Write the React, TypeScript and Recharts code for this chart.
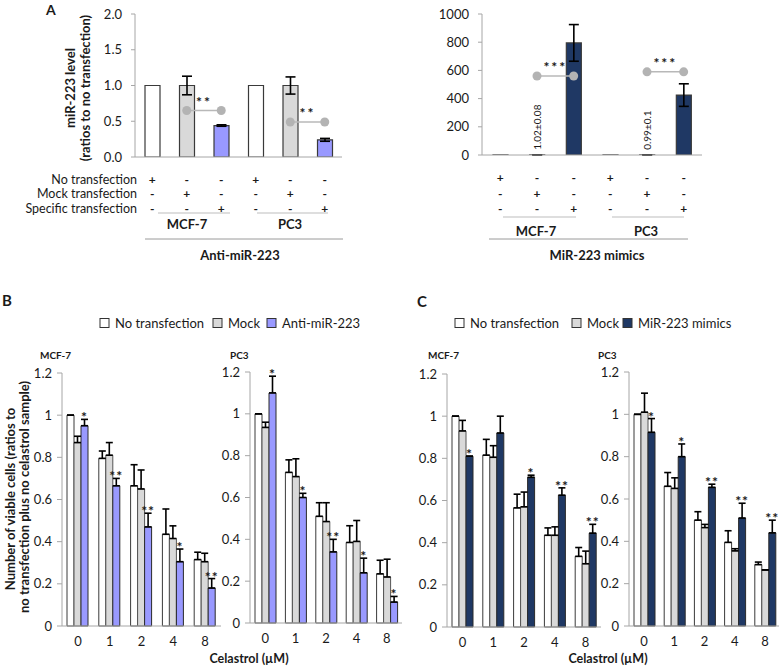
import React from 'react';
import { BarChart, Bar, XAxis, YAxis, ErrorBar, LabelList, ReferenceLine, ReferenceDot, Cell } from 'recharts';

const FONT = 'Lato, "Open Sans", sans-serif';
const AXIS = '#a6a6a6';
const INK = '#1a1a1a';

// ---------- Panel A data ----------
const aCategories = ['MCF-7 none', 'MCF-7 mock', 'MCF-7 specific', 'PC3 none', 'PC3 mock', 'PC3 specific'];
const aKinds = ['none', 'mock', 'specific', 'none', 'mock', 'specific'];
const noTransfectionRow = ['+', '-', '-', '+', '-', '-'];
const mockTransfectionRow = ['-', '+', '-', '-', '+', '-'];
const specificTransfectionRow = ['-', '-', '+', '-', '-', '+'];
const antiLevels = [1.0, 1.0, 0.44, 1.0, 1.0, 0.24];
const antiErrors = [0, 0.13, 0.01, 0, 0.12, 0.02];
const mimicLevels = [1, 1.02, 795, 1, 0.99, 425];
const mimicErrors = [0, 0.08, 130, 0, 0.1, 80];
const mimicMockLabels = ['', '1.02\u00B10.08', '', '', '0.99\u00B10.1', ''];
const antiYTicks = [0, 0.5, 1, 1.5, 2];
const mimicYTicks = [0, 200, 400, 600, 800, 1000];
const antiSig = [
  { from: 'MCF-7 mock', to: 'MCF-7 specific', y: 0.65, label: '**' },
  { from: 'PC3 mock', to: 'PC3 specific', y: 0.49, label: '**' },
];
const mimicSig = [
  { from: 'MCF-7 mock', to: 'MCF-7 specific', y: 560, label: '***' },
  { from: 'PC3 mock', to: 'PC3 specific', y: 590, label: '***' },
];

// ---------- Panels B / C data ----------
const celastrolDoses = ['0', '1', '2', '4', '8'];
const viabilityTicks = [0, 0.2, 0.4, 0.6, 0.8, 1, 1.2];

const bMcfNone = [1.0, 0.795, 0.665, 0.435, 0.315];
const bMcfNoneErr = [0, 0.035, 0.1, 0.12, 0.035];
const bMcfMock = [0.87, 0.81, 0.65, 0.415, 0.305];
const bMcfMockErr = [0.03, 0.06, 0.09, 0.06, 0.04];
const bMcfAnti = [0.95, 0.665, 0.47, 0.305, 0.18];
const bMcfAntiErr = [0.03, 0.035, 0.065, 0.06, 0.045];
const bMcfStars = ['*', '**', '**', '*', '**'];

const bPcNone = [1.0, 0.72, 0.51, 0.385, 0.235];
const bPcNoneErr = [0, 0.06, 0.065, 0.08, 0.065];
const bPcMock = [0.935, 0.7, 0.485, 0.39, 0.22];
const bPcMockErr = [0.025, 0.085, 0.09, 0.1, 0.085];
const bPcAnti = [1.1, 0.6, 0.34, 0.24, 0.1];
const bPcAntiErr = [0.08, 0.02, 0.06, 0.07, 0.027];
const bPcStars = ['*', '*', '**', '*', '*'];

const cMcfNone = [1.0, 0.815, 0.565, 0.435, 0.335];
const cMcfNoneErr = [0, 0.075, 0.065, 0.035, 0.042];
const cMcfMock = [0.93, 0.805, 0.57, 0.435, 0.3];
const cMcfMockErr = [0.05, 0.055, 0.07, 0.04, 0.06];
const cMcfMimic = [0.81, 0.92, 0.71, 0.625, 0.445];
const cMcfMimicErr = [0, 0.08, 0.01, 0.035, 0.042];
const cMcfStars = ['*', '', '*', '**', '**'];

const cPcNone = [1.0, 0.66, 0.5, 0.395, 0.29];
const cPcNoneErr = [0, 0.065, 0.04, 0.055, 0.012];
const cPcMock = [1.01, 0.65, 0.465, 0.355, 0.265];
const cPcMockErr = [0.09, 0.05, 0.015, 0.01, 0];
const cPcMimic = [0.915, 0.8, 0.655, 0.51, 0.44];
const cPcMimicErr = [0.065, 0.06, 0.015, 0.07, 0.06];
const cPcStars = ['*', '*', '**', '**', '**'];

// ---------- colours ----------
const COLORS: Record<string, string> = {
  none: '#ffffff',
  mock: '#d9d9d9',
  anti: '#9999ff',
  mimic: '#1f3864',
};
const legendB = [
  { name: 'No transfection', color: COLORS.none },
  { name: 'Mock', color: COLORS.mock },
  { name: 'Anti-miR-223', color: COLORS.anti },
];
const legendC = [
  { name: 'No transfection', color: COLORS.none },
  { name: 'Mock', color: COLORS.mock },
  { name: 'MiR-223 mimics', color: COLORS.mimic },
];

function box(plotLeft: number, plotTop: number, plotW: number, plotH: number, yw: number, xh: number) {
  return {
    style: { position: 'absolute' as const, left: plotLeft - yw, top: plotTop - 10 },
    width: yw + plotW + 10,
    height: 10 + plotH + xh,
    margin: { top: 10, right: 10, bottom: 0, left: 0 },
  };
}

function makeTransfectionTick(offsets: number[]) {
  return (props: any) => {
    const { x, y, payload } = props;
    const i = props.index ?? payload.index;
    const rows = [noTransfectionRow[i], mockTransfectionRow[i], specificTransfectionRow[i]];
    return (
      <g>
        {rows.map((s, r) => (
          <text key={r} x={x} y={y + offsets[r]} textAnchor="middle" dominantBaseline="central"
            fontSize={12} fontWeight={700} fontFamily={FONT} fill={INK}>{s}</text>
        ))}
      </g>
    );
  };
}

const sigLabel = (text: string) => (props: any) => {
  const vb = props.viewBox || {};
  const x = (vb.x ?? 0) + (vb.width ?? 0) / 2;
  const y = vb.y ?? 0;
  return (
    <text x={x} y={y - 4} textAnchor="middle" fontSize={14} fontWeight={700} fontFamily={FONT}
      fill={INK} letterSpacing={2}>{text}</text>
  );
};

function sigMarks(list: { from: string; to: string; y: number; label: string }[]) {
  const out: any[] = [];
  list.forEach((s, k) => {
    out.push(
      <ReferenceLine key={'l' + k} segment={[{ x: s.from, y: s.y }, { x: s.to, y: s.y }]}
        stroke="#b8b8b8" strokeWidth={1.5} label={sigLabel(s.label)} ifOverflow="visible" />
    );
    out.push(<ReferenceDot key={'a' + k} x={s.from} y={s.y} r={4.5} fill="#b3b3b3" stroke="none" ifOverflow="visible" />);
    out.push(<ReferenceDot key={'b' + k} x={s.to} y={s.y} r={4.5} fill="#b3b3b3" stroke="none" ifOverflow="visible" />);
  });
  return out;
}

function TransfectionChart({ levels, errors, specificColor, ticks, domain, fmt, pos, offsets, sig, vertLabels }: any) {
  const data = aCategories.map((c, i) => ({ cat: c, level: levels[i], err: errors[i], kind: aKinds[i] }));
  const b = box(pos[0], pos[1], pos[2], pos[3], 60, 60);
  const vertContent = (props: any) => {
    const vb = props.viewBox || props;
    const i = props.index;
    const t = vertLabels ? vertLabels[i] : '';
    if (!t) return null;
    const x = (props.x ?? vb.x) + (props.width ?? vb.width) / 2;
    const y = (props.y ?? vb.y);
    return (
      <text x={x} y={y - 5} transform={`rotate(-90, ${x}, ${y - 5})`} textAnchor="start"
        dominantBaseline="central" fontSize={10} fontFamily={FONT} fill={INK}>{t}</text>
    );
  };
  return (
    <div style={b.style}>
      <BarChart width={b.width} height={b.height} data={data} margin={b.margin} barSize={15}>
        <YAxis width={60} domain={domain} ticks={ticks} interval={0} tickFormatter={fmt}
          axisLine={{ stroke: AXIS }} tickLine={{ stroke: AXIS }} tickSize={4} tickMargin={9}
          tick={{ fontSize: 13, fill: INK, fontFamily: FONT }} allowDataOverflow />
        <XAxis dataKey="cat" height={60} interval={0} axisLine={{ stroke: AXIS }} tickLine={false}
          tickSize={0} tickMargin={0} tick={makeTransfectionTick(offsets)} />
        <Bar dataKey="level" isAnimationActive={false} stroke="#3a3a3a" strokeWidth={1.2}>
          {data.map((d, i) => (
            <Cell key={i} fill={d.kind === 'none' ? COLORS.none : d.kind === 'mock' ? COLORS.mock : specificColor} />
          ))}
          <ErrorBar dataKey="err" width={5} stroke="#000" strokeWidth={1.6} direction="y" />
          {vertLabels ? <LabelList dataKey="level" content={vertContent} /> : null}
        </Bar>
        {sigMarks(sig)}
      </BarChart>
    </div>
  );
}

function ViabilityChart({ pos, none, noneErr, mock, mockErr, treat, treatErr, stars, treatColor }: any) {
  const data = celastrolDoses.map((d, i) => ({
    dose: d,
    none: none[i], noneErr: [0, noneErr[i]],
    mock: mock[i], mockErr: [0, mockErr[i]],
    treat: treat[i], treatErr: [0, treatErr[i]],
  }));
  const b = box(pos[0], pos[1], pos[2], pos[3], 40, 30);
  const starContent = (props: any) => {
    const vb = props.viewBox || {};
    const i = props.index;
    const s = stars[i];
    if (!s) return null;
    const x = props.x ?? vb.x;
    const y = props.y ?? vb.y;
    const w = props.width ?? vb.width;
    const h = props.height ?? vb.height;
    const v = treat[i];
    const ppu = v ? h / v : 0;
    const top = y - treatErr[i] * ppu;
    return (
      <text x={x + w / 2} y={top + 3} textAnchor="middle" fontSize={14} fontWeight={700}
        fontFamily={FONT} fill={INK} letterSpacing={1}>{s}</text>
    );
  };
  const eb = { width: 3.5, stroke: '#000', strokeWidth: 1.6, direction: 'y' as const };
  return (
    <div style={b.style}>
      <BarChart width={b.width} height={b.height} data={data} margin={b.margin} barSize={7} barGap={0}>
        <YAxis width={40} domain={[0, 1.2]} ticks={viabilityTicks} interval={0}
          tickFormatter={(v: number) => String(Math.round(v * 10) / 10)}
          axisLine={{ stroke: AXIS }} tickLine={{ stroke: AXIS }} tickSize={5} tickMargin={5}
          tick={{ fontSize: 13, fill: INK, fontFamily: FONT }} />
        <XAxis dataKey="dose" height={30} interval={0} axisLine={{ stroke: AXIS }} tickLine={false}
          tickSize={0} tickMargin={11} tick={{ fontSize: 13, fill: INK, fontFamily: FONT }} />
        <Bar dataKey="none" fill={COLORS.none} stroke="#3a3a3a" strokeWidth={1} isAnimationActive={false}>
          <ErrorBar dataKey="noneErr" {...eb} />
        </Bar>
        <Bar dataKey="mock" fill={COLORS.mock} stroke="#555" strokeWidth={1} isAnimationActive={false}>
          <ErrorBar dataKey="mockErr" {...eb} />
        </Bar>
        <Bar dataKey="treat" fill={treatColor} stroke="#2a2a2a" strokeWidth={1} isAnimationActive={false}>
          <ErrorBar dataKey="treatErr" {...eb} />
          <LabelList dataKey="treat" content={starContent} />
        </Bar>
      </BarChart>
    </div>
  );
}

function Legend({ items, xs, y }: { items: { name: string; color: string }[]; xs: number[]; y: number }) {
  return (
    <g>
      {items.map((it, i) => (
        <g key={i}>
          <rect x={xs[i]} y={y - 4.5} width={9} height={9} fill={it.color} stroke="#333" strokeWidth={1} />
          <text x={xs[i] + 15} y={y} dominantBaseline="central" fontSize={13} fontFamily={FONT} fill={INK}>{it.name}</text>
        </g>
      ))}
    </g>
  );
}

const T = (p: any) => <text fontFamily={FONT} fill={INK} {...p} />;

export default function App() {
  return (
    <div style={{ position: 'absolute', left: 0, top: 0, width: 779, height: 668, background: '#fff', overflow: 'hidden' }}>
      <TransfectionChart levels={antiLevels} errors={antiErrors} specificColor={COLORS.anti}
        ticks={antiYTicks} domain={[0, 2]} fmt={(v: number) => v.toFixed(1)}
        pos={[135, 14, 207, 143]} offsets={[22, 36, 51]} sig={antiSig} />
      <TransfectionChart levels={mimicLevels} errors={mimicErrors} specificColor={COLORS.mimic}
        ticks={mimicYTicks} domain={[0, 1000]} fmt={(v: number) => String(v)}
        pos={[482, 14, 220, 141]} offsets={[22, 38, 53]} sig={mimicSig} vertLabels={mimicMockLabels} />

      <ViabilityChart pos={[62, 373, 159, 253]} none={bMcfNone} noneErr={bMcfNoneErr} mock={bMcfMock}
        mockErr={bMcfMockErr} treat={bMcfAnti} treatErr={bMcfAntiErr} stars={bMcfStars} treatColor={COLORS.anti} />
      <ViabilityChart pos={[250, 372, 152, 251]} none={bPcNone} noneErr={bPcNoneErr} mock={bPcMock}
        mockErr={bPcMockErr} treat={bPcAnti} treatErr={bPcAntiErr} stars={bPcStars} treatColor={COLORS.anti} />
      <ViabilityChart pos={[447, 374, 154, 253]} none={cMcfNone} noneErr={cMcfNoneErr} mock={cMcfMock}
        mockErr={cMcfMockErr} treat={cMcfMimic} treatErr={cMcfMimicErr} stars={cMcfStars} treatColor={COLORS.mimic} />
      <ViabilityChart pos={[629, 372, 151, 254]} none={cPcNone} noneErr={cPcNoneErr} mock={cPcMock}
        mockErr={cPcMockErr} treat={cPcMimic} treatErr={cPcMimicErr} stars={cPcStars} treatColor={COLORS.mimic} />

      <svg width={779} height={668} style={{ position: 'absolute', left: 0, top: 0, pointerEvents: 'none' }}>
        <T x={46} y={15} fontSize={14} fontWeight={700}>A</T>
        <T x={70} y={88} fontSize={13} fontWeight={700} textAnchor="middle" dominantBaseline="central"
          transform="rotate(-90, 70, 88)">miR-223 level</T>
        <T x={85} y={88} fontSize={13} fontWeight={700} textAnchor="middle" dominantBaseline="central"
          transform="rotate(-90, 85, 88)">(ratios to no transfection)</T>
        <T x={137} y={179} fontSize={12.5} textAnchor="end" dominantBaseline="central">No transfection</T>
        <T x={137} y={193.5} fontSize={12.5} textAnchor="end" dominantBaseline="central">Mock transfection</T>
        <T x={137} y={208} fontSize={12.5} textAnchor="end" dominantBaseline="central">Specific transfection</T>

        <line x1={158} x2={230} y1={213} y2={213} stroke="#bdbdbd" />
        <line x1={257} x2={328} y1={213} y2={213} stroke="#bdbdbd" />
        <T x={187} y={224} fontSize={13} fontWeight={700} textAnchor="middle" dominantBaseline="central">MCF-7</T>
        <T x={290} y={224} fontSize={13} fontWeight={700} textAnchor="middle" dominantBaseline="central">PC3</T>
        <line x1={145} x2={343} y1={239} y2={239} stroke="#9a9a9a" />
        <T x={240} y={255} fontSize={13} fontWeight={700} textAnchor="middle" dominantBaseline="central">Anti-miR-223</T>

        <line x1={503} x2={576} y1={217} y2={217} stroke="#bdbdbd" />
        <line x1={612} x2={684} y1={217} y2={217} stroke="#bdbdbd" />
        <T x={536} y={231} fontSize={13} fontWeight={700} textAnchor="middle" dominantBaseline="central">MCF-7</T>
        <T x={646} y={231} fontSize={13} fontWeight={700} textAnchor="middle" dominantBaseline="central">PC3</T>
        <line x1={489} x2={688} y1={239} y2={239} stroke="#9a9a9a" />
        <T x={597} y={255} fontSize={13} fontWeight={700} textAnchor="middle" dominantBaseline="central">MiR-223 mimics</T>

        <T x={2} y={306} fontSize={15} fontWeight={700}>B</T>
        <T x={417} y={307} fontSize={15} fontWeight={700}>C</T>
        <Legend items={legendB} xs={[100, 213, 267]} y={323} />
        <Legend items={legendC} xs={[455, 572, 623]} y={323} />

        <T x={10} y={499} fontSize={13} fontWeight={700} textAnchor="middle" dominantBaseline="central"
          transform="rotate(-90, 10, 499)">Number of viable cells (ratios to</T>
        <T x={24} y={497} fontSize={13} fontWeight={700} textAnchor="middle" dominantBaseline="central"
          transform="rotate(-90, 24, 497)">no transfection plus no celastrol sample)</T>

        <T x={40} y={355} fontSize={10} fontWeight={700} dominantBaseline="central">MCF-7</T>
        <T x={230} y={355} fontSize={10} fontWeight={700} dominantBaseline="central">PC3</T>
        <T x={428} y={355} fontSize={10} fontWeight={700} dominantBaseline="central">MCF-7</T>
        <T x={598} y={355} fontSize={10} fontWeight={700} dominantBaseline="central">PC3</T>

        <T x={249} y={658} fontSize={12.5} fontWeight={700} textAnchor="middle" dominantBaseline="central">Celastrol (µM)</T>
        <T x={608} y={658} fontSize={12.5} fontWeight={700} textAnchor="middle" dominantBaseline="central">Celastrol (µM)</T>
      </svg>
    </div>
  );
}
